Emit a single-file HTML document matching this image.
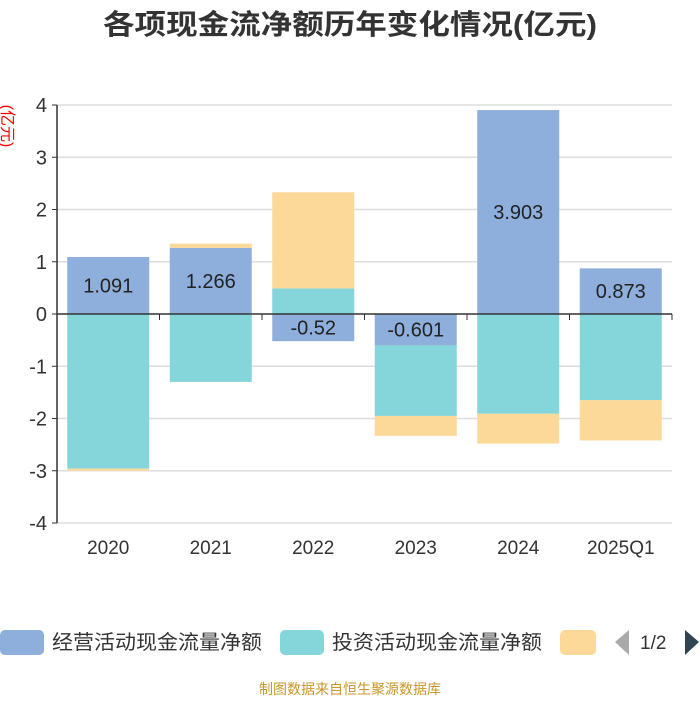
<!DOCTYPE html>
<html><head><meta charset="utf-8"><style>
body{margin:0;background:#fff;width:700px;height:700px;overflow:hidden;font-family:"Liberation Sans","Noto Sans CJK SC",sans-serif}
</style></head><body>
<svg id="c" width="700" height="700" xmlns="http://www.w3.org/2000/svg">
<text x="350" y="34" text-anchor="middle" font-size="28" font-weight="bold" fill="#333" textLength="494" lengthAdjust="spacingAndGlyphs" font-family="Liberation Sans,Noto Sans CJK SC,sans-serif">各项现金流净额历年变化情况(亿元)</text>
<text transform="translate(2,126) rotate(90)" text-anchor="middle" font-size="16" fill="#f00" font-family="Liberation Sans,Noto Sans CJK SC,sans-serif">(亿元)</text>
<g id="grid"></g><g id="bars"></g><g id="axes"></g>
<g font-family="Liberation Sans,Noto Sans CJK SC,sans-serif">
<rect x="0" y="630" width="44" height="25" rx="5" fill="#8eaedc"/>
<text x="52" y="649" font-size="20" fill="#333" textLength="210" lengthAdjust="spacingAndGlyphs">经营活动现金流量净额</text>
<rect x="280" y="630" width="44" height="25" rx="5" fill="#85d6da"/>
<text x="332" y="649" font-size="20" fill="#333" textLength="210" lengthAdjust="spacingAndGlyphs">投资活动现金流量净额</text>
<rect x="560" y="630" width="36" height="25" rx="5" fill="#fdd999"/>
<path d="M629 630 L615 642 L629 655 Z" fill="#aaa"/>
<text x="640" y="649" font-size="19" fill="#333">1/2</text>
<path d="M685 630 L699 642 L685 655 Z" fill="#2f4554"/>
</g>
<text x="350" y="694" text-anchor="middle" font-size="14" fill="#c8962a" font-family="Liberation Sans,Noto Sans CJK SC,sans-serif">制图数据来自恒生聚源数据库</text>
</svg>
<script>
const categories=["2020","2021","2022","2023","2024","2025Q1"];
const operating=[1.091,1.266,-0.52,-0.601,3.903,0.873];
const investing=[-2.96,-1.30,0.49,-1.35,-1.91,-1.65];
const financing=[-0.04,0.08,1.84,-0.38,-0.57,-0.77];
const yTicks=[4,3,2,1,0,-1,-2,-3,-4];
const NS="http://www.w3.org/2000/svg";
const x0=57,x1=672,yTop=105,yBot=523;
const y=v=>yTop+(4-v)*(yBot-yTop)/8;
const bw=(x1-x0)/categories.length;
const xc=i=>x0+bw*(i+0.5);
function mk(p,t,a){const e=document.createElementNS(NS,t);for(const k in a)e.setAttribute(k,a[k]);p.appendChild(e);return e;}
const G=document.getElementById('grid'),B=document.getElementById('bars'),A=document.getElementById('axes');
const font="Liberation Sans,Noto Sans CJK SC,sans-serif";
yTicks.forEach(v=>{
 if(v!==0){const l=mk(G,'line',{x1:x0,x2:x1,y1:y(v),y2:y(v),stroke:'#ddd','stroke-width':1.5});
 
 }
 const tk=mk(A,'line',{x1:x0-5,x2:x0,y1:y(v),y2:y(v),stroke:'#333'});
 
 
 const t=mk(A,'text',{x:x0-10,y:y(v)+7,'text-anchor':'end','font-size':20,fill:'#333','font-family':font});
 t.textContent=v;
 
 
});
const series=[[operating,'#8eaedc','operating'],[investing,'#85d6da','investing'],[financing,'#fdd999','financing']];
categories.forEach((c,i)=>{
 let pos=0,neg=0;
 series.forEach(([d,col,nm])=>{
  const v=d[i];let a,b;
  if(v>=0){a=pos;b=pos+v;pos=b;}else{a=neg;b=neg+v;neg=b;}
  const r=mk(B,'rect',{x:xc(i)-41,width:82,y:Math.min(y(a),y(b)),height:Math.abs(y(a)-y(b)),fill:col});
  
  
 });
 const v=operating[i];
 const t=mk(B,'text',{x:xc(i),y:y(v/2)+7,'text-anchor':'middle','font-size':20,fill:'#222','font-family':font});
 t.textContent=v;
 
 
 const xl=mk(A,'text',{x:xc(i),y:554,'text-anchor':'middle','font-size':19,fill:'#333','font-family':font});
 xl.textContent=c;
 
 
});
for(let i=0;i<=categories.length;i++){
 const t=mk(A,'line',{x1:x0+bw*i,x2:x0+bw*i,y1:y(0),y2:y(0)+6,stroke:'#333'});
 
 
}
const ya=mk(A,'line',{x1:x0,x2:x0,y1:yTop,y2:yBot,stroke:'#333','stroke-width':1.5});


const xa=mk(A,'line',{x1:x0,x2:x1,y1:y(0),y2:y(0),stroke:'#333','stroke-width':1.5});


</script>
</body></html>
